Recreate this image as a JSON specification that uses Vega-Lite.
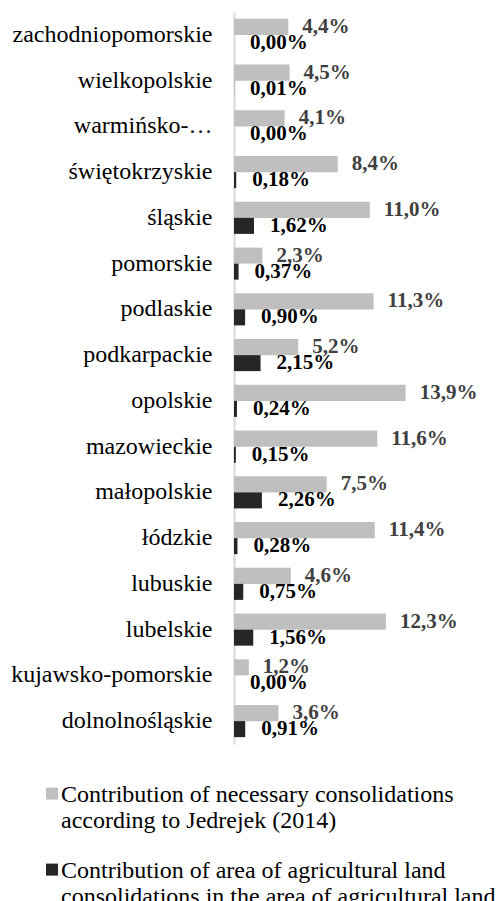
{
  "$schema": "https://vega.github.io/schema/vega-lite/v6.json",
  "width": 247,
  "height": 732,
  "autosize": {"type": "none"},
  "padding": {"left": 234, "top": 12, "right": 19, "bottom": 157},
  "background": "white",
  "config": {
    "view": {"stroke": null},
    "locale": {"number": {"decimal": ",", "thousands": " ", "grouping": [3], "currency": ["", " zł"]}},
    "font": "Liberation Serif"
  },
  "data": {
    "values": [
      {"region": "zachodniopomorskie", "series": "Contribution of necessary consolidations according to Jedrejek (2014)", "value": 0.044},
      {"region": "zachodniopomorskie", "series": "Contribution of area of agricultural land consolidations in the area of agricultural land", "value": 0.0},
      {"region": "wielkopolskie", "series": "Contribution of necessary consolidations according to Jedrejek (2014)", "value": 0.045},
      {"region": "wielkopolskie", "series": "Contribution of area of agricultural land consolidations in the area of agricultural land", "value": 0.0001},
      {"region": "warmińsko-mazurskie", "series": "Contribution of necessary consolidations according to Jedrejek (2014)", "value": 0.041},
      {"region": "warmińsko-mazurskie", "series": "Contribution of area of agricultural land consolidations in the area of agricultural land", "value": 0.0},
      {"region": "świętokrzyskie", "series": "Contribution of necessary consolidations according to Jedrejek (2014)", "value": 0.084},
      {"region": "świętokrzyskie", "series": "Contribution of area of agricultural land consolidations in the area of agricultural land", "value": 0.0018},
      {"region": "śląskie", "series": "Contribution of necessary consolidations according to Jedrejek (2014)", "value": 0.110},
      {"region": "śląskie", "series": "Contribution of area of agricultural land consolidations in the area of agricultural land", "value": 0.0162},
      {"region": "pomorskie", "series": "Contribution of necessary consolidations according to Jedrejek (2014)", "value": 0.023},
      {"region": "pomorskie", "series": "Contribution of area of agricultural land consolidations in the area of agricultural land", "value": 0.0037},
      {"region": "podlaskie", "series": "Contribution of necessary consolidations according to Jedrejek (2014)", "value": 0.113},
      {"region": "podlaskie", "series": "Contribution of area of agricultural land consolidations in the area of agricultural land", "value": 0.0090},
      {"region": "podkarpackie", "series": "Contribution of necessary consolidations according to Jedrejek (2014)", "value": 0.052},
      {"region": "podkarpackie", "series": "Contribution of area of agricultural land consolidations in the area of agricultural land", "value": 0.0215},
      {"region": "opolskie", "series": "Contribution of necessary consolidations according to Jedrejek (2014)", "value": 0.139},
      {"region": "opolskie", "series": "Contribution of area of agricultural land consolidations in the area of agricultural land", "value": 0.0024},
      {"region": "mazowieckie", "series": "Contribution of necessary consolidations according to Jedrejek (2014)", "value": 0.116},
      {"region": "mazowieckie", "series": "Contribution of area of agricultural land consolidations in the area of agricultural land", "value": 0.0015},
      {"region": "małopolskie", "series": "Contribution of necessary consolidations according to Jedrejek (2014)", "value": 0.075},
      {"region": "małopolskie", "series": "Contribution of area of agricultural land consolidations in the area of agricultural land", "value": 0.0226},
      {"region": "łódzkie", "series": "Contribution of necessary consolidations according to Jedrejek (2014)", "value": 0.114},
      {"region": "łódzkie", "series": "Contribution of area of agricultural land consolidations in the area of agricultural land", "value": 0.0028},
      {"region": "lubuskie", "series": "Contribution of necessary consolidations according to Jedrejek (2014)", "value": 0.046},
      {"region": "lubuskie", "series": "Contribution of area of agricultural land consolidations in the area of agricultural land", "value": 0.0075},
      {"region": "lubelskie", "series": "Contribution of necessary consolidations according to Jedrejek (2014)", "value": 0.123},
      {"region": "lubelskie", "series": "Contribution of area of agricultural land consolidations in the area of agricultural land", "value": 0.0156},
      {"region": "kujawsko-pomorskie", "series": "Contribution of necessary consolidations according to Jedrejek (2014)", "value": 0.012},
      {"region": "kujawsko-pomorskie", "series": "Contribution of area of agricultural land consolidations in the area of agricultural land", "value": 0.0},
      {"region": "dolnolnośląskie", "series": "Contribution of necessary consolidations according to Jedrejek (2014)", "value": 0.036},
      {"region": "dolnolnośląskie", "series": "Contribution of area of agricultural land consolidations in the area of agricultural land", "value": 0.0091}
    ]
  },
  "encoding": {
    "y": {
      "field": "region",
      "type": "nominal",
      "sort": ["zachodniopomorskie", "wielkopolskie", "warmińsko-mazurskie", "świętokrzyskie", "śląskie", "pomorskie", "podlaskie", "podkarpackie", "opolskie", "mazowieckie", "małopolskie", "łódzkie", "lubuskie", "lubelskie", "kujawsko-pomorskie", "dolnolnośląskie"],
      "scale": {"paddingInner": 0.3, "paddingOuter": 0.15},
      "axis": {
        "title": null,
        "ticks": false,
        "labelFont": "Liberation Serif",
        "labelFontSize": 24,
        "labelColor": "#000000",
        "labelPadding": 22,
        "labelLimit": 260,
        "labelExpr": "datum.label == 'warmińsko-mazurskie' ? 'warmińsko-…' : datum.label",
        "domainColor": "#d9d9d9",
        "domainWidth": 2
      }
    },
    "yOffset": {
      "field": "series",
      "type": "nominal",
      "sort": ["Contribution of necessary consolidations according to Jedrejek (2014)", "Contribution of area of agricultural land consolidations in the area of agricultural land"],
      "scale": {"paddingInner": 0, "paddingOuter": 0}
    },
    "x": {
      "field": "value",
      "type": "quantitative",
      "scale": {"domain": [0, 0.2], "nice": false},
      "axis": null
    }
  },
  "layer": [
    {
      "mark": {"type": "bar"},
      "encoding": {
        "color": {
          "field": "series",
          "type": "nominal",
          "scale": {
            "domain": ["Contribution of necessary consolidations according to Jedrejek (2014)", "Contribution of area of agricultural land consolidations in the area of agricultural land"],
            "range": ["#bfbfbf", "#262626"]
          },
          "legend": {
            "orient": "none",
            "legendX": -194,
            "legendY": 778,
            "direction": "vertical",
            "title": null,
            "symbolType": "M-1,-2.4H1V-0.4H-1Z",
            "symbolSize": 144,
            "symbolStrokeWidth": 0,
            "labelFont": "Liberation Serif",
            "labelFontSize": 24,
            "labelColor": "#000000",
            "labelOffset": -3,
            "labelLimit": 500,
            "labelBaseline": "alphabetic",
            "rowPadding": 26,
            "labelExpr": "datum.label == 'Contribution of necessary consolidations according to Jedrejek (2014)' ? ['Contribution of necessary consolidations', 'according to Jedrejek (2014)'] : ['Contribution of area of agricultural land', 'consolidations in the area of agricultural land']"
          }
        }
      }
    },
    {
      "transform": [{"filter": "datum.series == 'Contribution of necessary consolidations according to Jedrejek (2014)'"}],
      "mark": {"type": "text", "align": "left", "baseline": "middle", "dx": 14, "font": "Liberation Serif", "fontSize": 21, "fontWeight": "bold", "color": "#404040"},
      "encoding": {"text": {"field": "value", "type": "quantitative", "format": ".1%"}}
    },
    {
      "transform": [{"filter": "datum.series != 'Contribution of necessary consolidations according to Jedrejek (2014)'"}],
      "mark": {"type": "text", "align": "left", "baseline": "middle", "dx": 16, "font": "Liberation Serif", "fontSize": 21, "fontWeight": "bold", "color": "#000000"},
      "encoding": {"text": {"field": "value", "type": "quantitative", "format": ".2%"}}
    }
  ]
}
